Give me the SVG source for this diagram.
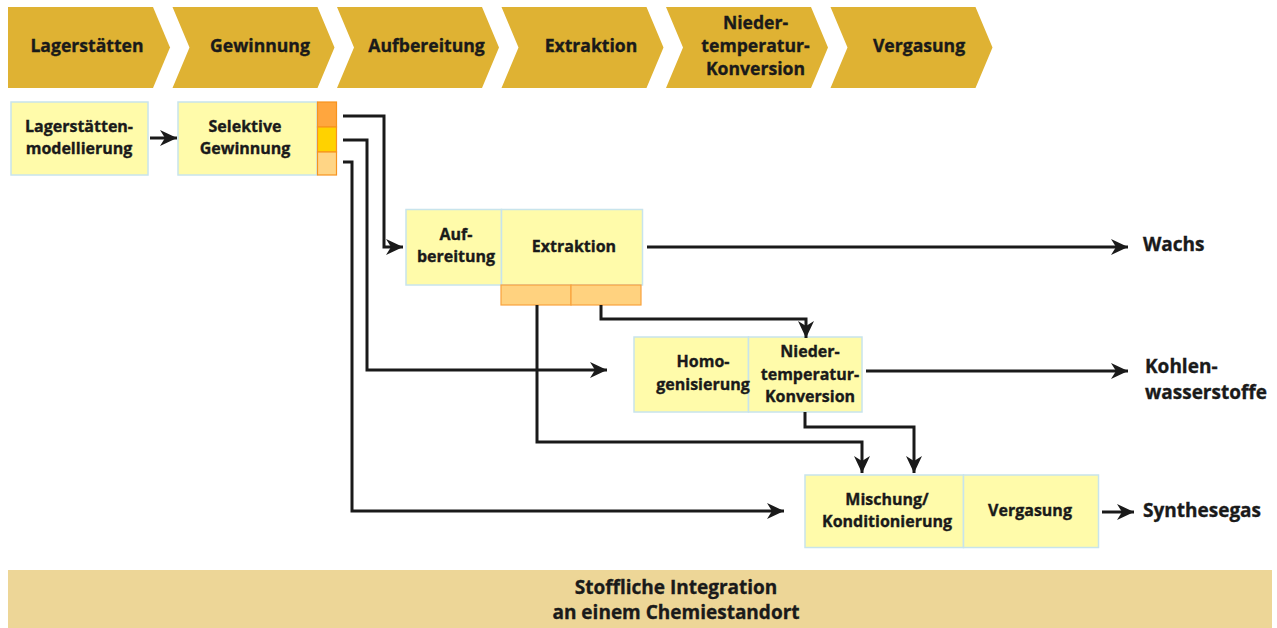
<svg xmlns="http://www.w3.org/2000/svg" width="1277" height="628" viewBox="0 0 1277 628">
<style>
text{font-family:"Open Sans","Liberation Sans",sans-serif;font-weight:bold;fill:#1a1a1a;stroke:#1a1a1a;stroke-width:0.35}
.ch{fill:#DFB233}
.cht{font-size:17.6px;text-anchor:middle}
.box{fill:#FFFBAA;stroke:#C8E4EC;stroke-width:1.5}
.bt{font-size:16px;text-anchor:middle}
.out{font-size:19px}
.seg{stroke:#F7931E;stroke-width:1.2}
.con{fill:none;stroke:#1a1a1a;stroke-width:3}
.arr{marker-end:url(#ah)}
</style>
<defs>
<marker id="ah" markerUnits="userSpaceOnUse" markerWidth="18" markerHeight="16" viewBox="0 0 18 16" refX="17" refY="8" orient="auto">
<path d="M0,0 L17,8 L0,16 L5,8 z" fill="#1a1a1a"/>
</marker>
</defs>
<g id="phases">
<g id="ph1"><polygon class="ch" points="8,7 153,7 170,47.5 153,88 8,88"/><text class="cht" x="87" y="52">Lagerstätten</text></g>
<g id="ph2"><polygon class="ch" points="172.5,7 317.5,7 334.5,47.5 317.5,88 172.5,88 189.5,47.5"/><text class="cht" x="260" y="52">Gewinnung</text></g>
<g id="ph3"><polygon class="ch" points="337,7 482,7 499,47.5 482,88 337,88 354,47.5"/><text class="cht" x="426.5" y="52">Aufbereitung</text></g>
<g id="ph4"><polygon class="ch" points="501.5,7 646.5,7 663.5,47.5 646.5,88 501.5,88 518.5,47.5"/><text class="cht" x="591" y="52">Extraktion</text></g>
<g id="ph5"><polygon class="ch" points="666,7 811,7 828,47.5 811,88 666,88 683,47.5"/><text class="cht" x="755.5" y="29">Nieder-</text><text class="cht" x="755.5" y="52">temperatur-</text><text class="cht" x="755.5" y="75">Konversion</text></g>
<g id="ph6"><polygon class="ch" points="830.5,7 975.5,7 992.5,47.5 975.5,88 830.5,88 847.5,47.5"/><text class="cht" x="919" y="52">Vergasung</text></g>
</g>
<g id="n-modell"><rect class="box" x="11" y="102" width="137" height="73"/><text class="bt" x="79" y="132">Lagerstätten-</text><text class="bt" x="79" y="154">modellierung</text></g>
<g id="n-selektiv"><rect class="box" x="178" y="102" width="139" height="73"/><text class="bt" x="245" y="132">Selektive</text><text class="bt" x="245" y="154">Gewinnung</text>
<rect class="seg" x="317.5" y="102" width="19" height="25" fill="#FFA63E"/>
<rect class="seg" x="317.5" y="127" width="19" height="25" fill="#FFD200"/>
<rect class="seg" x="317.5" y="152" width="19" height="23" fill="#FFD585"/></g>
<g id="n-aufextr"><rect class="box" x="406" y="209.5" width="95.5" height="75.5"/><rect class="box" x="501.5" y="209.5" width="141" height="75.5"/>
<text class="bt" x="456" y="240">Auf-</text><text class="bt" x="456" y="262">bereitung</text><text class="bt" x="574" y="252">Extraktion</text>
<rect x="501" y="285" width="70" height="20" fill="#FFD27F" stroke="#F9A23C" stroke-width="1.2"/><rect x="571" y="285" width="70" height="20" fill="#FFD27F" stroke="#F9A23C" stroke-width="1.2"/></g>
<g id="n-homonied"><rect class="box" x="634" y="337" width="114.5" height="75"/><rect class="box" x="748.5" y="337" width="113.5" height="75"/>
<text class="bt" x="703" y="367">Homo-</text><text class="bt" x="703" y="390">genisierung</text>
<text class="bt" x="810" y="357">Nieder-</text><text class="bt" x="810" y="380">temperatur-</text><text class="bt" x="810" y="402">Konversion</text></g>
<g id="n-mischverg"><rect class="box" x="805" y="475" width="158.5" height="72.5"/><rect class="box" x="963.5" y="475" width="135" height="72.5"/>
<text class="bt" x="887" y="505">Mischung/</text><text class="bt" x="887" y="527">Konditionierung</text><text class="bt" x="1030" y="516">Vergasung</text></g>
<g id="outputs"><text class="out" x="1143" y="251">Wachs</text><text class="out" x="1145" y="373">Kohlen-</text><text class="out" x="1145" y="399">wasserstoffe</text><text class="out" x="1143" y="517">Synthesegas</text></g>
<g id="connectors">
<path class="con arr" d="M150,138 H177"/>
<path class="con arr" d="M343,116 H384 V247 H403"/>
<path class="con arr" d="M343,140 H367 V370 H607"/>
<path class="con arr" d="M343,162 H352 V511 H784"/>
<path class="con arr" d="M647,247 H1128"/>
<path class="con arr" d="M866,371 H1128"/>
<path class="con arr" d="M1102,512 H1134"/>
<path class="con arr" d="M601,305 V319 H806 V338"/>
<path class="con arr" d="M537,305 V442 H862 V473"/>
<path class="con arr" d="M805,412 V427 H914 V473"/>
</g>
<g id="integration"><rect x="8" y="570" width="1264" height="58" fill="#EDD697"/><text class="bt" style="font-size:19px" x="676" y="594">Stoffliche Integration</text><text class="bt" style="font-size:19px" x="676" y="619">an einem Chemiestandort</text></g>
</svg>
